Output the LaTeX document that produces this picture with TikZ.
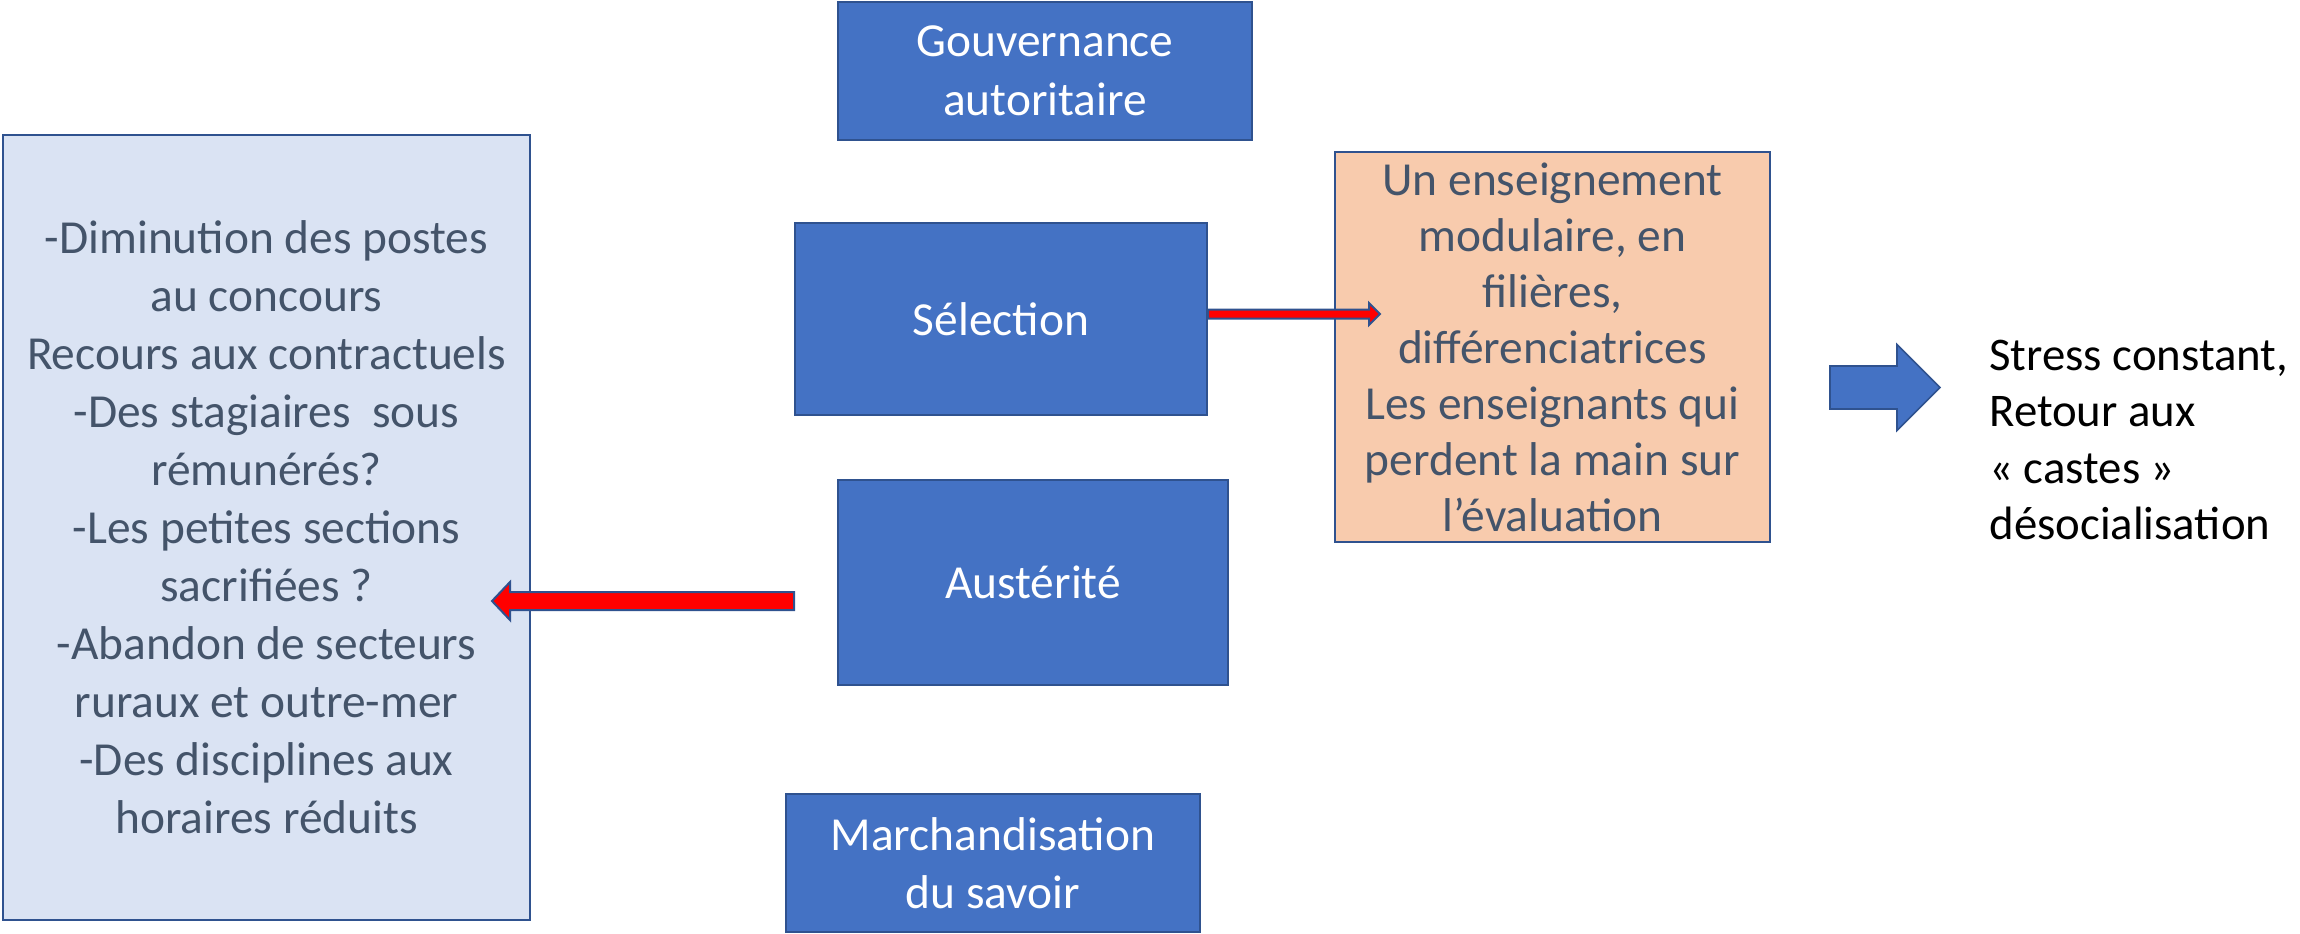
\documentclass[tikz,border=0pt]{standalone}
\usepackage{fontspec}
\setmainfont{Carlito}
\usetikzlibrary{calc}
\definecolor{boxblue}{HTML}{4472C4}
\definecolor{edgeblue}{HTML}{2F528F}
\definecolor{paleblue}{HTML}{DAE3F3}
\definecolor{peach}{HTML}{F8CBAD}
\definecolor{slate}{HTML}{44546A}
\begin{document}
\begin{tikzpicture}[x=0.5pt,y=-0.5pt,
  basebox/.style={draw=edgeblue,line width=1pt,align=center,inner sep=0pt},
  bluebox/.style={basebox,fill=boxblue,text=white,font=\fontsize{23.7}{29.3}\selectfont},
  listbox/.style={basebox,fill=paleblue,text=slate,font=\fontsize{23.7}{29}\selectfont},
  peachbox/.style={basebox,fill=peach,text=slate,font=\fontsize{23.7}{28}\selectfont},
  plaintext/.style={align=left,inner sep=0pt,text=black,font=\fontsize{23.4}{28.3}\selectfont},
  redarrow/.style={draw=edgeblue,line width=1pt,fill=red,line join=miter},
  blockarrow/.style={draw=edgeblue,line width=0.8pt,fill=boxblue,line join=miter}]
\path[use as bounding box] (0,0) rectangle (2300,933);

\node[bluebox,minimum width=207pt,minimum height=69pt] (gouv) at (1045,71) {Gouvernance\\autoritaire};
\node[bluebox,minimum width=206pt,minimum height=96pt] (sel) at (1001,319) {Sélection};
\node[bluebox,minimum width=195pt,minimum height=102.5pt] (aust) at (1033,582.5) {Austérité};
\node[bluebox,minimum width=207pt,minimum height=69pt] (march) at (993,863) {Marchandisation\\du savoir};

\node[listbox,minimum width=263.5pt,minimum height=392.5pt] (list) at (266.5,527.5)
  {-Diminution des postes\\au concours\\Recours aux contractuels\\-Des stagiaires\ \ sous\\rémunérés?\\-Les petites sections\\sacrifiées ?\\-Abandon de secteurs\\ruraux et outre-mer\\-Des disciplines aux\\horaires réduits};

\node[peachbox,minimum width=217.5pt,minimum height=195pt] (mod) at (1552.5,347)
  {Un enseignement\\modulaire, en\\filières,\\différenciatrices\\Les enseignants qui\\perdent la main sur\\l’évaluation};

\node[plaintext,anchor=west] (stress) at (1989,440)
  {Stress constant,\\Retour aux\\« castes »\\désocialisation};

% red arrow Sélection -> module box
\draw[redarrow] ($(sel.east)+(0,-9.5)$) -- ++(161,0) -- ++(0,-6.5) -- ++(11,11) -- ++(-11,11) -- ++(0,-6.5) -- ($(sel.east)+(0,-0.5)$) -- cycle;

% red arrow Austérité -> list box
\coordinate (austail) at (794,601);
\coordinate (austip) at ($(list.east)+(-39,73.5)$);
\draw[redarrow] ($(austail)+(0,-9)$) -- ($(austip)+(18,-9)$) -- ($(austip)+(18,-19)$) -- (austip) -- ($(austip)+(18,19)$) -- ($(austip)+(18,9)$) -- ($(austail)+(0,9)$) -- cycle;

% blue block arrow
\coordinate (btail) at (1830,387.5);
\coordinate (btip) at (1940,387.5);
\draw[blockarrow] ($(btail)+(0,-21.5)$) -- ($(btip)+(-43,-21.5)$) -- ($(btip)+(-43,-43)$) -- (btip) -- ($(btip)+(-43,43)$) -- ($(btip)+(-43,21.5)$) -- ($(btail)+(0,21.5)$) -- cycle;
\end{tikzpicture}
\end{document}
